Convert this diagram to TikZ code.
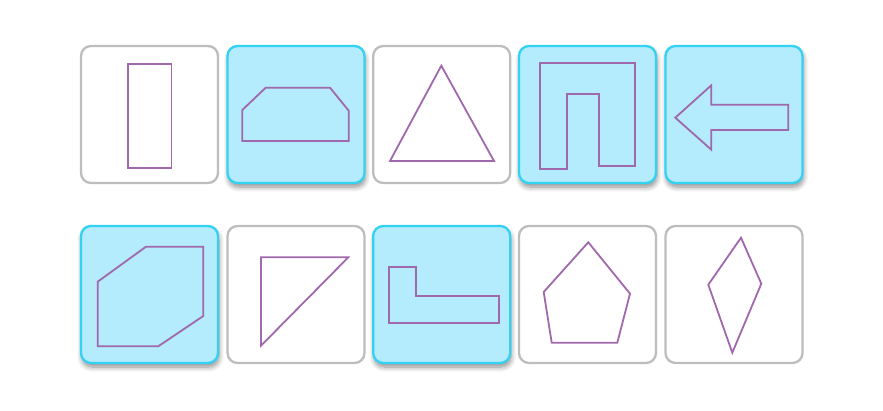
\documentclass[tikz,border=0pt]{standalone}
\usetikzlibrary{shadows.blur}
\definecolor{cardgray}{HTML}{BDBDBD}
\definecolor{cyanfill}{HTML}{B4EBFD}
\definecolor{cyanline}{HTML}{33D1F2}
\definecolor{shapepurple}{HTML}{A169AD}
\tikzset{
  card/.style={rectangle, rounded corners=10pt, minimum width=137pt, minimum height=137pt, inner sep=0pt, line width=2.3pt},
  plaincard/.style={card, draw=cardgray, fill=white},
  hicard/.style={card, draw=cyanline, fill=cyanfill, blur shadow={shadow xshift=1pt, shadow yshift=-4pt, shadow blur steps=8, shadow blur radius=5pt, shadow opacity=45}},
  figure/.style={draw=shapepurple, line width=1.8pt, line join=miter}
}
\begin{document}
\begin{tikzpicture}[x=1pt,y=-1pt]
\useasboundingbox (0,0) rectangle (883,411);
% row 1
\node[plaincard] (c1) at (149.5,114.5) {};
\node[hicard]    (c2) at (296,114.5) {};
\node[plaincard] (c3) at (441.7,114.5) {};
\node[hicard]    (c4) at (587.5,114.5) {};
\node[hicard]    (c5) at (734,114.5) {};
% row 2
\node[hicard]    (c6) at (149.5,294.5) {};
\node[plaincard] (c7) at (296,294.5) {};
\node[hicard]    (c8) at (441.7,294.5) {};
\node[plaincard] (c9) at (587.5,294.5) {};
\node[plaincard] (c10) at (734,294.5) {};
% shapes row 1
\draw[figure] (128,64) rectangle (171.5,168);
\draw[figure] (242.3,110) -- (265.7,87.7) -- (330,87.7) -- (348.7,110.7) -- (348.7,141) -- (242.3,141) -- cycle;
\draw[figure] (441.3,65.7) -- (494,161) -- (390,161) -- cycle;
\draw[figure] (540,63.3) -- (635.3,63.3) -- (635.3,165.7) -- (598.7,165.7) -- (598.7,94.3) -- (566.7,94.3) -- (566.7,169) -- (540,169) -- cycle;
\draw[figure] (675.3,117.7) -- (711.3,85.3) -- (711.3,104.7) -- (788.3,104.7) -- (788.3,130) -- (711.3,130) -- (711.3,149.7) -- cycle;
% shapes row 2
\draw[figure] (97.7,281.7) -- (146,246.7) -- (203.3,246.7) -- (203.3,316) -- (158.3,346.3) -- (97.7,346.3) -- cycle;
\draw[figure] (261,257.3) -- (348.3,257.3) -- (261,345.7) -- cycle;
\draw[figure] (389,267.3) -- (416,267.3) -- (416,295.7) -- (499.3,295.7) -- (499.3,323) -- (389,323) -- cycle;
\draw[figure] (588.3,242.3) -- (630,293.7) -- (617.3,342.7) -- (551.7,342.7) -- (543.7,292) -- cycle;
\draw[figure] (741,237.7) -- (761.3,283.7) -- (732.3,352.7) -- (708.3,284.7) -- cycle;
\end{tikzpicture}
\end{document}
